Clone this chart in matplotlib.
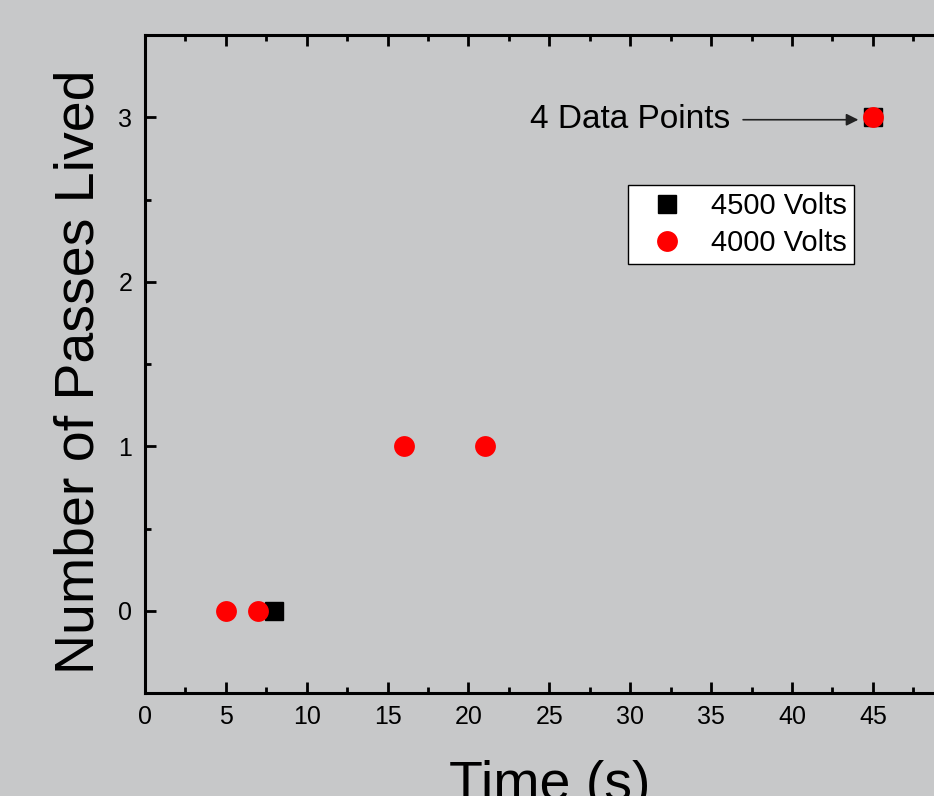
import matplotlib.pyplot as plt
from matplotlib.ticker import FixedLocator, MultipleLocator

plt.rcParams['font.family'] = ['Liberation Sans', 'DejaVu Sans']

# Lifetimes per run
time_4500 = [8, 45]
passes_4500 = [0, 3]
time_4000 = [5, 7, 16, 21, 45]
passes_4000 = [0, 0, 1, 1, 3]
x_ticks = [0, 5, 10, 15, 20, 25, 30, 35, 40, 45]

fig = plt.figure(figsize=(9.34, 7.96), dpi=100)
fig.patch.set_facecolor('#c7c8c9')
ax = fig.add_axes([0.1552, 0.1294, 0.866, 0.8266])
ax.set_facecolor('#c7c8c9')

ax.plot(time_4500, passes_4500, 's', color='black', markersize=13.5,
        linestyle='none', label='4500 Volts')
ax.plot(time_4000, passes_4000, 'o', color='red', markersize=15,
        markeredgewidth=0, linestyle='none', label='4000 Volts')

ax.set_xlim(0, 50)
ax.set_ylim(-0.5, 3.5)
ax.xaxis.set_major_locator(FixedLocator(x_ticks))
ax.xaxis.set_minor_locator(MultipleLocator(2.5))
ax.yaxis.set_major_locator(MultipleLocator(1))
ax.yaxis.set_minor_locator(MultipleLocator(0.5))

for side in ax.spines.values():
    side.set_linewidth(2.2)
ax.tick_params(which='both', direction='in', width=2, top=True, right=True,
               labelsize=18, pad=9)
ax.tick_params(which='major', length=8)
ax.tick_params(which='minor', length=4)

ax.set_xlabel('Time (s)', fontsize=40, labelpad=22)
ax.set_ylabel('Number of Passes Lived', fontsize=40, labelpad=9)
ax.yaxis.label.set_y(0.488)

ax.annotate('4 Data Points', xy=(44.1, 2.985), xytext=(36.2, 2.985),
            fontsize=24, ha='right', va='center',
            arrowprops=dict(arrowstyle='-|>', color='#222222', lw=1.2,
                            mutation_scale=18, shrinkA=7, shrinkB=0))

leg = ax.legend(loc='upper left', bbox_to_anchor=(0.597, 0.772),
                fontsize=21, frameon=True, fancybox=False, edgecolor='black',
                facecolor='white', framealpha=1, handletextpad=0.4,
                borderpad=0.25, labelspacing=0.3, handlelength=2.2,
                borderaxespad=0)
leg.get_frame().set_linewidth(1)

fig.savefig('out.png', dpi=100, facecolor=fig.get_facecolor())
